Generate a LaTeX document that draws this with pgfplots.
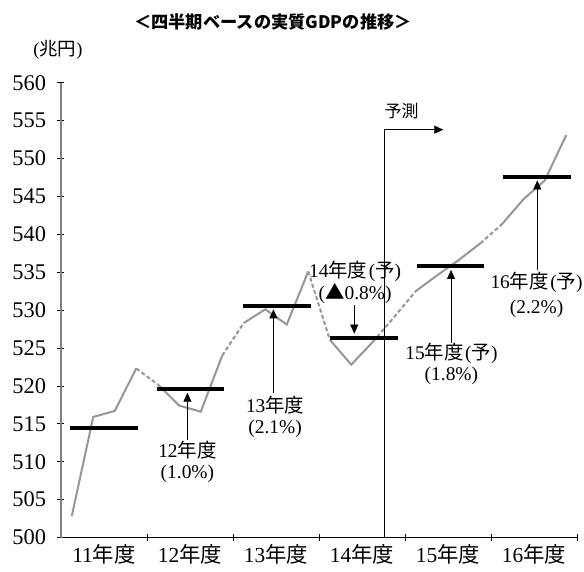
\documentclass[border=0pt]{standalone}
\usepackage{fontspec}
\setmainfont{Liberation Serif}
\newfontfamily\jp{Noto Sans CJK JP}
\usepackage{pgfplots}
\pgfplotsset{compat=1.18}
\usetikzlibrary{arrows.meta}

\definecolor{gdpline}{RGB}{150,150,150}
\newcommand{\nen}{{\jp 年度}}
\newcommand{\yo}{\kern1.5bp({\jp 予})}
\newcommand{\fs}[1]{\fontsize{#1}{#1}\selectfont}

\begin{document}
\begin{tikzpicture}[x=1bp,y=1bp]
\useasboundingbox (-61,-34.5) rectangle (523,537.5);
\begin{axis}[
  at={(0,0)}, anchor=south west,
  scale only axis, width=516bp, height=454.8bp,
  xmin=0, xmax=6, ymin=500, ymax=560,
  axis x line=bottom, axis y line=left,
  axis line style={-},
  x axis line style={black, line width=0.8bp},
  y axis line style={gray, line width=1.3bp},
  clip=false,
  /pgf/number format/assume math mode=true,
  ytick={500,505,...,560},
  yticklabel style={font=\fs{22.5}, xshift=-8bp},
  xtick={1,2,3,4,5,6},
  xticklabels={},
  extra x ticks={0.5,1.5,2.5,3.5,4.5,5.5},
  extra x tick labels={11\nen,12\nen,13\nen,14\nen,15\nen,16\nen},
  extra x tick style={major tick length=0pt,
    tick label style={font=\fs{21.5}, yshift=-3bp}},
  major tick length=7bp,
  tick style={black, line width=0.6bp},
]
% quarterly real GDP, solid within each fiscal year
\addplot[gdpline, line width=2bp] coordinates {(0.125,502.8)(0.375,515.9)(0.625,516.7)(0.875,522.3)};
\addplot[gdpline, line width=2bp] coordinates {(1.125,520.2)(1.375,517.4)(1.625,516.6)(1.875,524.0)};
\addplot[gdpline, line width=2bp] coordinates {(2.125,528.3)(2.375,530.1)(2.625,528.1)(2.875,535.1)};
\addplot[gdpline, line width=2bp] coordinates {(3.125,526.1)(3.375,522.8)(3.625,525.8)};
\addplot[gdpline, line width=2bp] coordinates {(4.125,532.5)(4.375,534.6)(4.625,536.6)(4.875,538.8)};
\addplot[gdpline, line width=2bp] coordinates {(5.125,541.3)(5.375,544.6)(5.625,547.1)(5.875,553.1)};
% dashed links between years
\addplot[gdpline, line width=2bp, dash pattern=on 4bp off 2.5bp] coordinates {(0.875,522.3)(1.125,520.2)};
\addplot[gdpline, line width=2bp, dash pattern=on 4bp off 2.5bp] coordinates {(1.875,524.0)(2.125,528.3)};
\addplot[gdpline, line width=2bp, dash pattern=on 4bp off 2.5bp] coordinates {(2.875,535.1)(3.125,526.1)};
\addplot[gdpline, line width=2bp, dash pattern=on 4bp off 2.5bp] coordinates {(3.625,525.8)(3.875,529.1)(4.125,532.5)};
\addplot[gdpline, line width=2bp, dash pattern=on 4bp off 2.5bp] coordinates {(4.875,538.8)(5.125,541.3)};
% fiscal-year averages
\addplot[black, line width=4bp] coordinates {(0.105,514.4)(0.890,514.4)};
\addplot[black, line width=4bp] coordinates {(1.113,519.6)(1.898,519.6)};
\addplot[black, line width=4bp] coordinates {(2.121,530.6)(2.906,530.6)};
\addplot[black, line width=4bp] coordinates {(3.129,526.3)(3.914,526.3)};
\addplot[black, line width=4bp] coordinates {(4.137,535.8)(4.922,535.8)};
\addplot[black, line width=4bp] coordinates {(5.145,547.6)(5.930,547.6)};

% growth-rate callouts
\tikzset{callout/.style={line width=0.8bp, -{Triangle[width=8bp,length=9bp]}},
         lab/.style={font=\fs{19.5}, inner sep=0pt}}
\draw[callout] (axis cs:1.47,512.9) -- (axis cs:1.47,519.1);
\node[lab] at (axis cs:1.47,511.5) {12\nen};
\node[lab] at (axis cs:1.47,508.4) {(1.0\%)};

\draw[callout] (axis cs:2.47,519.1) -- (axis cs:2.47,530.1);
\node[lab] at (axis cs:2.49,517.5) {13\nen};
\node[lab] at (axis cs:2.49,514.4) {(2.1\%)};

\node[lab] at (axis cs:3.42,535.1) {14\nen\yo};
\node[lab] at (axis cs:3.42,532.2) {({\jp ▲}0.8\%)};
\draw[callout] (axis cs:3.41,530.7) -- (axis cs:3.41,526.9);

\draw[callout] (axis cs:4.535,525.7) -- (axis cs:4.535,535.3);
\node[lab] at (axis cs:4.54,524.3) {15\nen\yo};
\node[lab] at (axis cs:4.54,521.3) {(1.8\%)};

\draw[callout] (axis cs:5.538,535.3) -- (axis cs:5.538,547.1);
\node[lab] at (axis cs:5.53,533.6) {16\nen\yo};
\node[lab] at (axis cs:5.53,530.2) {(2.2\%)};

% forecast marker
\draw[line width=0.8bp, -{Triangle[width=8bp,length=9bp]}]
  (axis cs:3.765,500) -- (axis cs:3.765,553.8) -- (axis cs:4.445,553.8);
\node[font=\jp\fs{17}, inner sep=0pt] at (axis cs:3.96,556.2) {予測};
\end{axis}
\node[font=\jp\bfseries\fs{17.3}, inner sep=0pt] at (212,515.5) {＜四半期ベースの実質GDPの推移＞};
\node[font=\fs{18.5}, inner sep=0pt] at (-3,487.5) {({\jp 兆円})};
\end{tikzpicture}
\end{document}
